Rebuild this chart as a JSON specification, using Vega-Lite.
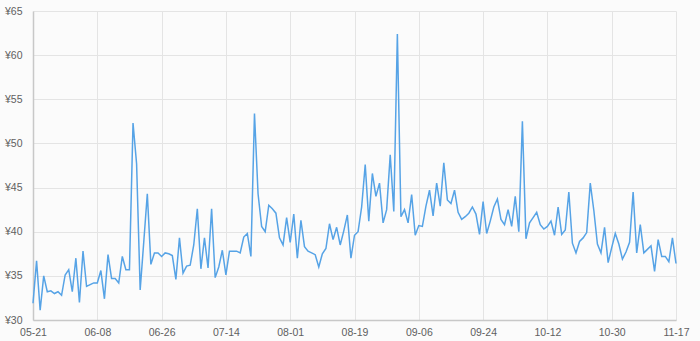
{
  "$schema": "https://vega.github.io/schema/vega-lite/v6.json",
  "width": 643,
  "height": 309,
  "autosize": {"type": "none"},
  "padding": {"left": 33, "top": 11, "right": 24, "bottom": 21},
  "background": "#fbfbfb",
  "config": {
    "view": {"stroke": null},
    "font": "Liberation Sans",
    "axis": {"labelFont": "Liberation Sans", "labelColor": "#606060", "labelFontSize": 10.5, "ticks": false, "gridColor": "#e4e4e4", "gridWidth": 1, "domainColor": "#c8c8c8", "domainWidth": 1.5}
  },
  "data": {"values": [
    {"d":"05-21","v":31.9},{"d":"05-22","v":36.7},{"d":"05-23","v":31.1},{"d":"05-24","v":35.0},{"d":"05-25","v":33.2},{"d":"05-26","v":33.3},{"d":"05-27","v":33.0},{"d":"05-28","v":33.2},{"d":"05-29","v":32.8},{"d":"05-30","v":35.1},{"d":"05-31","v":35.7},
    {"d":"06-01","v":33.2},{"d":"06-02","v":37.0},{"d":"06-03","v":32.0},{"d":"06-04","v":37.8},{"d":"06-05","v":33.8},{"d":"06-06","v":34.0},{"d":"06-07","v":34.2},{"d":"06-08","v":34.2},{"d":"06-09","v":35.6},{"d":"06-10","v":32.4},
    {"d":"06-11","v":37.4},{"d":"06-12","v":34.7},{"d":"06-13","v":34.7},{"d":"06-14","v":34.2},{"d":"06-15","v":37.2},{"d":"06-16","v":35.7},{"d":"06-17","v":35.7},{"d":"06-18","v":52.3},{"d":"06-19","v":47.7},{"d":"06-20","v":33.4},
    {"d":"06-21","v":38.8},{"d":"06-22","v":44.3},{"d":"06-23","v":36.3},{"d":"06-24","v":37.6},{"d":"06-25","v":37.6},{"d":"06-26","v":37.2},{"d":"06-27","v":37.6},{"d":"06-28","v":37.5},{"d":"06-29","v":37.3},{"d":"06-30","v":34.6},
    {"d":"07-01","v":39.3},{"d":"07-02","v":35.3},{"d":"07-03","v":36.1},{"d":"07-04","v":36.2},{"d":"07-05","v":38.5},{"d":"07-06","v":42.6},{"d":"07-07","v":35.8},{"d":"07-08","v":39.3},{"d":"07-09","v":35.9},{"d":"07-10","v":42.6},
    {"d":"07-11","v":34.8},{"d":"07-12","v":36.0},{"d":"07-13","v":37.9},{"d":"07-14","v":35.1},{"d":"07-15","v":37.8},{"d":"07-16","v":37.8},{"d":"07-17","v":37.8},{"d":"07-18","v":37.6},{"d":"07-19","v":39.4},{"d":"07-20","v":39.8},
    {"d":"07-21","v":37.2},{"d":"07-22","v":53.4},{"d":"07-23","v":44.3},{"d":"07-24","v":40.6},{"d":"07-25","v":40.0},{"d":"07-26","v":43.0},{"d":"07-27","v":42.6},{"d":"07-28","v":42.1},{"d":"07-29","v":39.3},{"d":"07-30","v":38.5},{"d":"07-31","v":41.6},
    {"d":"08-01","v":38.8},{"d":"08-02","v":42.0},{"d":"08-03","v":37.0},{"d":"08-04","v":41.3},{"d":"08-05","v":38.3},{"d":"08-06","v":37.8},{"d":"08-07","v":37.6},{"d":"08-08","v":37.4},{"d":"08-09","v":36.0},{"d":"08-10","v":37.5},
    {"d":"08-11","v":38.1},{"d":"08-12","v":40.9},{"d":"08-13","v":39.1},{"d":"08-14","v":40.5},{"d":"08-15","v":38.5},{"d":"08-16","v":40.1},{"d":"08-17","v":41.9},{"d":"08-18","v":37.0},{"d":"08-19","v":39.6},{"d":"08-20","v":40.0},
    {"d":"08-21","v":42.8},{"d":"08-22","v":47.6},{"d":"08-23","v":41.2},{"d":"08-24","v":46.6},{"d":"08-25","v":44.0},{"d":"08-26","v":45.5},{"d":"08-27","v":41.0},{"d":"08-28","v":42.5},{"d":"08-29","v":48.7},{"d":"08-30","v":42.3},{"d":"08-31","v":62.4},
    {"d":"09-01","v":41.7},{"d":"09-02","v":42.5},{"d":"09-03","v":41.0},{"d":"09-04","v":44.2},{"d":"09-05","v":39.6},{"d":"09-06","v":40.7},{"d":"09-07","v":40.6},{"d":"09-08","v":42.9},{"d":"09-09","v":44.7},{"d":"09-10","v":41.8},
    {"d":"09-11","v":45.5},{"d":"09-12","v":42.9},{"d":"09-13","v":47.8},{"d":"09-14","v":43.6},{"d":"09-15","v":43.2},{"d":"09-16","v":44.7},{"d":"09-17","v":42.2},{"d":"09-18","v":41.4},{"d":"09-19","v":41.7},{"d":"09-20","v":42.1},
    {"d":"09-21","v":42.8},{"d":"09-22","v":42.0},{"d":"09-23","v":39.7},{"d":"09-24","v":43.4},{"d":"09-25","v":39.8},{"d":"09-26","v":41.2},{"d":"09-27","v":42.8},{"d":"09-28","v":43.7},{"d":"09-29","v":41.4},{"d":"09-30","v":40.8},
    {"d":"10-01","v":42.5},{"d":"10-02","v":40.6},{"d":"10-03","v":44.0},{"d":"10-04","v":40.0},{"d":"10-05","v":52.5},{"d":"10-06","v":39.2},{"d":"10-07","v":41.0},{"d":"10-08","v":41.6},{"d":"10-09","v":42.2},{"d":"10-10","v":40.8},
    {"d":"10-11","v":40.3},{"d":"10-12","v":40.6},{"d":"10-13","v":41.2},{"d":"10-14","v":39.6},{"d":"10-15","v":42.8},{"d":"10-16","v":39.7},{"d":"10-17","v":40.2},{"d":"10-18","v":44.5},{"d":"10-19","v":38.7},{"d":"10-20","v":37.6},
    {"d":"10-21","v":38.9},{"d":"10-22","v":39.3},{"d":"10-23","v":39.9},{"d":"10-24","v":45.5},{"d":"10-25","v":42.4},{"d":"10-26","v":38.6},{"d":"10-27","v":37.6},{"d":"10-28","v":40.5},{"d":"10-29","v":36.5},{"d":"10-30","v":38.2},{"d":"10-31","v":39.8},
    {"d":"11-01","v":38.6},{"d":"11-02","v":36.9},{"d":"11-03","v":37.7},{"d":"11-04","v":38.8},{"d":"11-05","v":44.5},{"d":"11-06","v":37.6},{"d":"11-07","v":40.8},{"d":"11-08","v":37.6},{"d":"11-09","v":38.0},{"d":"11-10","v":38.4},
    {"d":"11-11","v":35.5},{"d":"11-12","v":39.1},{"d":"11-13","v":37.2},{"d":"11-14","v":37.2},{"d":"11-15","v":36.6},{"d":"11-16","v":39.3},{"d":"11-17","v":36.4}
  ]},
  "mark": {"type": "line", "color": "#56a3e6", "strokeWidth": 1.5, "strokeJoin": "miter"},
  "encoding": {
    "x": {
      "field": "d", "type": "ordinal", "sort": null,
      "scale": {"type": "point", "padding": 0},
      "axis": {"title": null, "labelAngle": 0, "labelPadding": 7, "values": ["05-21","06-08","06-26","07-14","08-01","08-19","09-06","09-24","10-12","10-30","11-17"], "grid": true, "domain": true}
    },
    "y": {
      "field": "v", "type": "quantitative",
      "scale": {"domain": [30, 65], "nice": false, "zero": false},
      "axis": {"title": null, "values": [30, 35, 40, 45, 50, 55, 60, 65], "labelExpr": "'¥' + datum.value", "labelPadding": 11, "grid": true, "domain": true}
    }
  }
}
